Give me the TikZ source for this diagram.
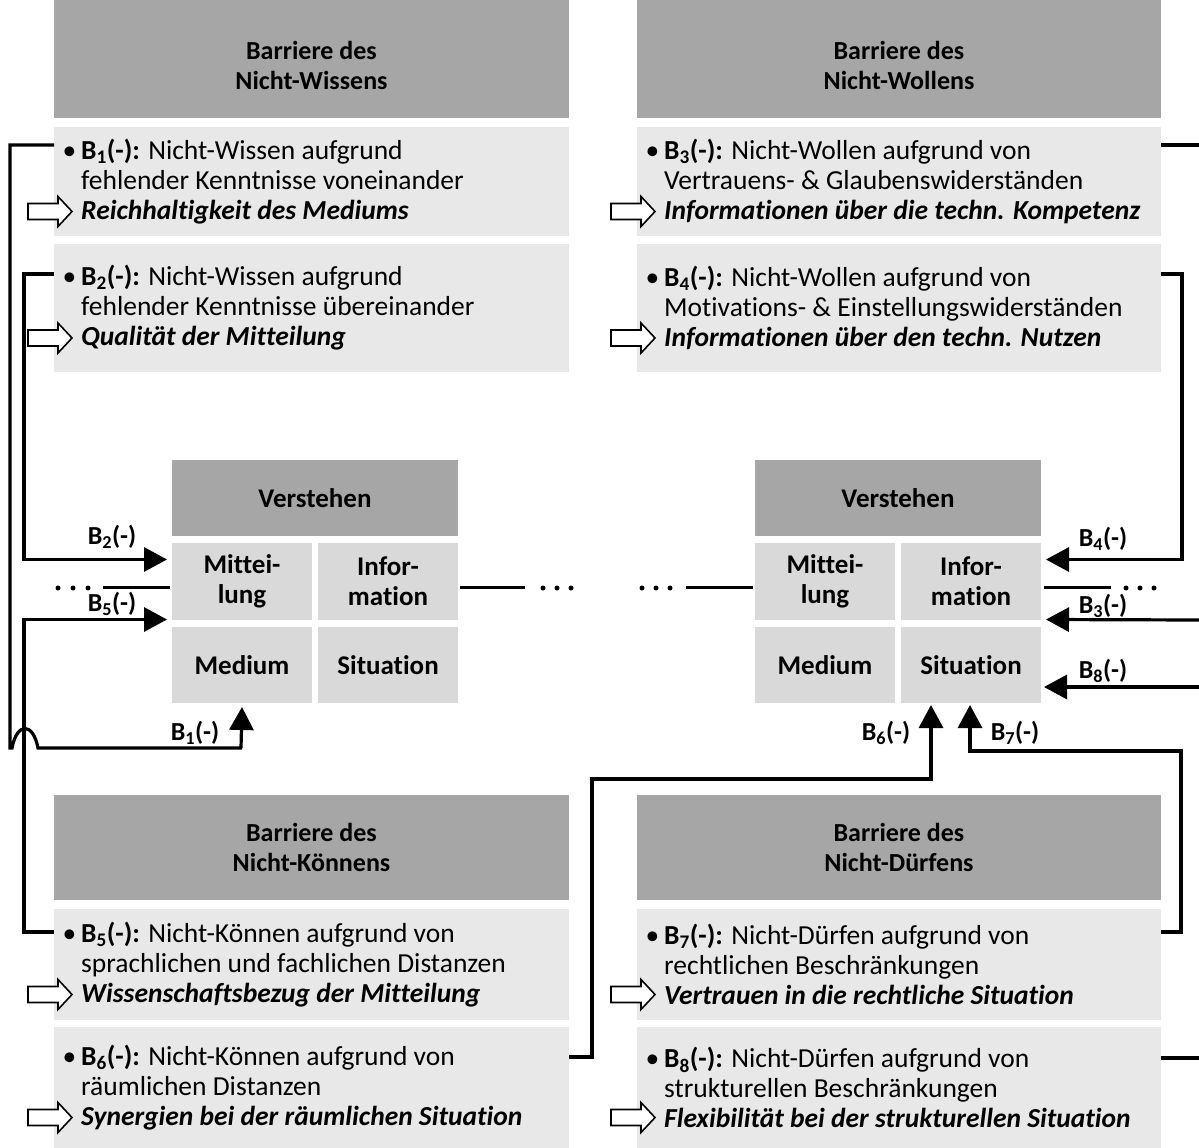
\documentclass[tikz,border=0pt]{standalone}
\usepackage{fontspec}
\setmainfont{Carlito}[Ligatures=NoCommon]
\usetikzlibrary{calc,arrows.meta}

\definecolor{hdrgray}{HTML}{A6A6A6}
\definecolor{itemgray}{HTML}{E8E8E8}
\definecolor{cellgray}{HTML}{D9D9D9}

\newcommand{\bodysize}{\fontsize{27.5}{30}\selectfont}
\newcommand{\hdrsize}{\fontsize{26}{30}\selectfont}
\newcommand{\cellsize}{\fontsize{27}{30}\selectfont}

\tikzset{
  box/.style={anchor=north west, inner sep=0pt, outer sep=0pt},
  hdrbox/.style={box, fill=hdrgray},
  itembox/.style={box, fill=itemgray},
  cellbox/.style={box, fill=cellgray},
  hdrtext/.style={font=\hdrsize\bfseries, align=center, inner sep=0pt},
  celltext/.style={font=\cellsize\bfseries, align=center, inner sep=0pt},
  itemtext/.style={anchor=west, align=left, inner sep=0pt, font=\bodysize},
  lbl/.style={font=\hdrsize\bfseries, inner sep=0pt},
  conn/.style={line width=3.2pt},
  arr/.style={conn, -{Triangle[length=23pt,width=24pt]}},
  hollowarrow/.pic={
    \draw[line width=1.6pt, fill=white, line join=miter]
      (-44,-8) -- (-14,-8) -- (-14,-15) -- (0,0) -- (-14,15) -- (-14,8) -- (-44,8) -- cycle;
  },
  dot/.style={circle, fill=black, inner sep=0pt, minimum size=5pt}
}

\newcommand{\Bl}[1]{B\textsubscript{#1}(-)}
% bullet hanging to the left of the first line
\newcommand{\bul}{\llap{\textbullet\hspace{5pt}}}

\begin{document}
\begin{tikzpicture}[x=1pt, y=-1pt, font=\bodysize]
\useasboundingbox (0,0) rectangle (1199,1148);

% ---------- barrier blocks ----------
% Nicht-Wissen (top left)
\node[hdrbox, minimum width=515pt, minimum height=118pt] (hW) at (54,0) {};
\node[hdrtext] at (hW.center) [yshift=-6pt] {Barriere des\\Nicht-Wissens};
\node[itembox, minimum width=515pt, minimum height=109pt] (b1) at (54,127) {};
\node[itemtext] (t1) at ($(b1.west)+(27,0)$) {\bul\textbf{\Bl{1}:} Nicht-Wissen aufgrund\\fehlender Kenntnisse voneinander\\\textbf{\textit{Reichhaltigkeit des Mediums}}};
\node[itembox, minimum width=515pt, minimum height=128pt] (b2) at (54,244) {};
\node[itemtext] (t2) at ($(b2.west)+(27,0)$) {\bul\textbf{\Bl{2}:} Nicht-Wissen aufgrund\\fehlender Kenntnisse übereinander\\\textbf{\textit{Qualität der Mitteilung}}};

% Nicht-Wollen (top right)
\node[hdrbox, minimum width=524pt, minimum height=118pt] (hWo) at (637,0) {};
\node[hdrtext] at (hWo.center) [yshift=-6pt] {Barriere des\\Nicht-Wollens};
\node[itembox, minimum width=524pt, minimum height=109pt] (b3) at (637,127) {};
\node[itemtext] (t3) at ($(b3.west)+(27,0)$) {\bul\textbf{\Bl{3}:} Nicht-Wollen aufgrund von\\Vertrauens- \& Glaubenswiderständen\\\textbf{\textit{Informationen über die techn. Kompetenz}}};
\node[itembox, minimum width=524pt, minimum height=128pt] (b4) at (637,244) {};
\node[itemtext] (t4) at ($(b4.west)+(27,0)$) {\bul\textbf{\Bl{4}:} Nicht-Wollen aufgrund von\\Motivations- \& Einstellungswiderständen\\\textbf{\textit{Informationen über den techn. Nutzen}}};

% Nicht-Können (bottom left)
\node[hdrbox, minimum width=515pt, minimum height=105pt] (hK) at (54,795) {};
\node[hdrtext] at (hK.center) {Barriere des\\Nicht-Könnens};
\node[itembox, minimum width=515pt, minimum height=111pt] (b5) at (54,909) {};
\node[itemtext] (t5) at ($(b5.west)+(27,0)$) {\bul\textbf{\Bl{5}:} Nicht-Können aufgrund von\\sprachlichen und fachlichen Distanzen\\\textbf{\textit{Wissenschaftsbezug der Mitteilung}}};
\node[itembox, minimum width=515pt, minimum height=121pt] (b6) at (54,1027) {};
\node[itemtext] (t6) at ($(b6.west)+(27,0)$) {\bul\textbf{\Bl{6}:} Nicht-Können aufgrund von\\räumlichen Distanzen\\\textbf{\textit{Synergien bei der räumlichen Situation}}};

% Nicht-Dürfen (bottom right)
\node[hdrbox, minimum width=524pt, minimum height=105pt] (hD) at (637,795) {};
\node[hdrtext] at (hD.center) {Barriere des\\Nicht-Dürfens};
\node[itembox, minimum width=524pt, minimum height=111pt] (b7) at (637,909) {};
\node[itemtext] (t7) at ($(b7.west)+(27,0)$) {\bul\textbf{\Bl{7}:} Nicht-Dürfen aufgrund von\\rechtlichen Beschränkungen\\\textbf{\textit{Vertrauen in die rechtliche Situation}}};
\node[itembox, minimum width=524pt, minimum height=121pt] (b8) at (637,1027) {};
\node[itemtext] (t8) at ($(b8.west)+(27,0)$) {\bul\textbf{\Bl{8}:} Nicht-Dürfen aufgrund von\\strukturellen Beschränkungen\\\textbf{\textit{Flexibilität bei der strukturellen Situation}}};

% hollow arrows in front of the third lines
\foreach \b in {b1,b2,b3,b4,b5,b6,b7,b8}{
  \pic at ($(\b.west)+(18,0)+(0,30)$) {hollowarrow};
}

% ---------- understanding blocks ----------
\foreach \s/\x in {L/172, R/755}{
  \node[hdrbox, minimum width=286pt, minimum height=76pt] (ver\s) at (\x,460) {};
  \node[celltext] at (ver\s.center) {Verstehen};
  \node[cellbox, minimum width=140pt, minimum height=77pt] (mit\s) at (\x,543) {};
  \node[celltext] at (mit\s.center) {Mittei-\\lung};
  \node[cellbox, minimum width=140pt, minimum height=77pt] (inf\s) at (\x+146,543) {};
  \node[celltext] at (inf\s.center) {Infor-\\mation};
  \node[cellbox, minimum width=140pt, minimum height=76pt] (med\s) at (\x,627) {};
  \node[celltext] at (med\s.center) {Medium};
  \node[cellbox, minimum width=140pt, minimum height=76pt] (sit\s) at (\x+146,627) {};
  \node[celltext] at (sit\s.center) {Situation};
}

% ---------- continuation lines with ellipses ----------
\draw[conn] ($(mitL.west)+(-2,6)$) -- ++(-67,0) coordinate (eL);
\foreach \d in {58,73,88} \node[dot] at (\d,588) {};
\draw[conn] ($(infL.east)+(2,6)$) -- ++(65,0) coordinate (eC1);
\foreach \d in {543,557,571} \node[dot] at (\d,588) {};
\foreach \d in {642,656,670} \node[dot] at (\d,588) {};
\draw[conn] ($(mitR.west)+(-2,6)$) -- ++(-67,0) coordinate (eC2);
\draw[conn] ($(infR.east)+(3,6)$) -- ++(67,0) coordinate (eR);
\foreach \d in {1126,1140,1154} \node[dot] at (\d,588) {};

% ---------- barrier connectors ----------
\coordinate (edge3) at (1199,145);
\coordinate (edge3in) at (1199,620);
\coordinate (edge8) at (1199,1058);
\coordinate (edge8in) at (1199,687);

% B1: down the far left, hopping over B5, into Medium
\draw[conn, line join=miter] ($(b1.north west)+(0,18)$) -- (10,145) -- (10,748) -- (12,748)
   .. controls (17,722) and (33,722) .. (38,748) -- (242,748);
\draw[arr] (241,748) -- ($(medL.south)+(0,4)$);
% B2 into Mitteilung
\draw[arr, line join=miter] ($(b2.north west)+(0,30)$) -- ++(-30,0) |- ($(mitL.west)+(-5,-22)$);
% B5 into Mitteilung
\draw[arr, line join=miter] ($(b5.north west)+(0,23)$) -- ++(-30,0) |- ($(mitL.west)+(-5,38)$);
% B3 leaves to the right, returns into Information
\draw[conn] ($(b3.north east)+(0,18)$) -- (edge3);
\draw[arr] (edge3in) -- ($(infR.east)+(5,38)$);
% B4 into Information
\draw[arr, line join=miter] ($(b4.north east)+(0,30)$) -- ++(21,0) |- ($(infR.east)+(5,-22)$);
% B8 leaves to the right, returns into Situation
\draw[conn] ($(b8.north east)+(0,31)$) -- (edge8);
\draw[arr] (edge8in) -- ($(sitR.east)+(3,22)$);
% B6 into Situation from below
\draw[arr, line join=miter] ($(b6.north east)+(0,30)$) -- (592,1057) -- (592,779) -| ($(sitR.south)+(-40,2)$);
% B7 into Situation from below
\draw[arr, line join=miter] ($(b7.north east)+(0,23)$) -- (1181,932) -- (1181,751) -| ($(sitR.south)+(-1,2)$);

% ---------- connector labels ----------
\node[lbl] (l2) at (112,537) {\Bl{2}};
\node[lbl] (l5) at (112,604) {\Bl{5}};
\node[lbl] (l1) at (195,733) {\Bl{1}};
\node[lbl] (l4) at (1103,539) {\Bl{4}};
\node[lbl] (l3) at (1103,606) {\Bl{3}};
\node[lbl] (l8) at (1103,671) {\Bl{8}};
\node[lbl] (l6) at (886,733) {\Bl{6}};
\node[lbl] (l7) at (1015,733) {\Bl{7}};
\end{tikzpicture}
\end{document}
